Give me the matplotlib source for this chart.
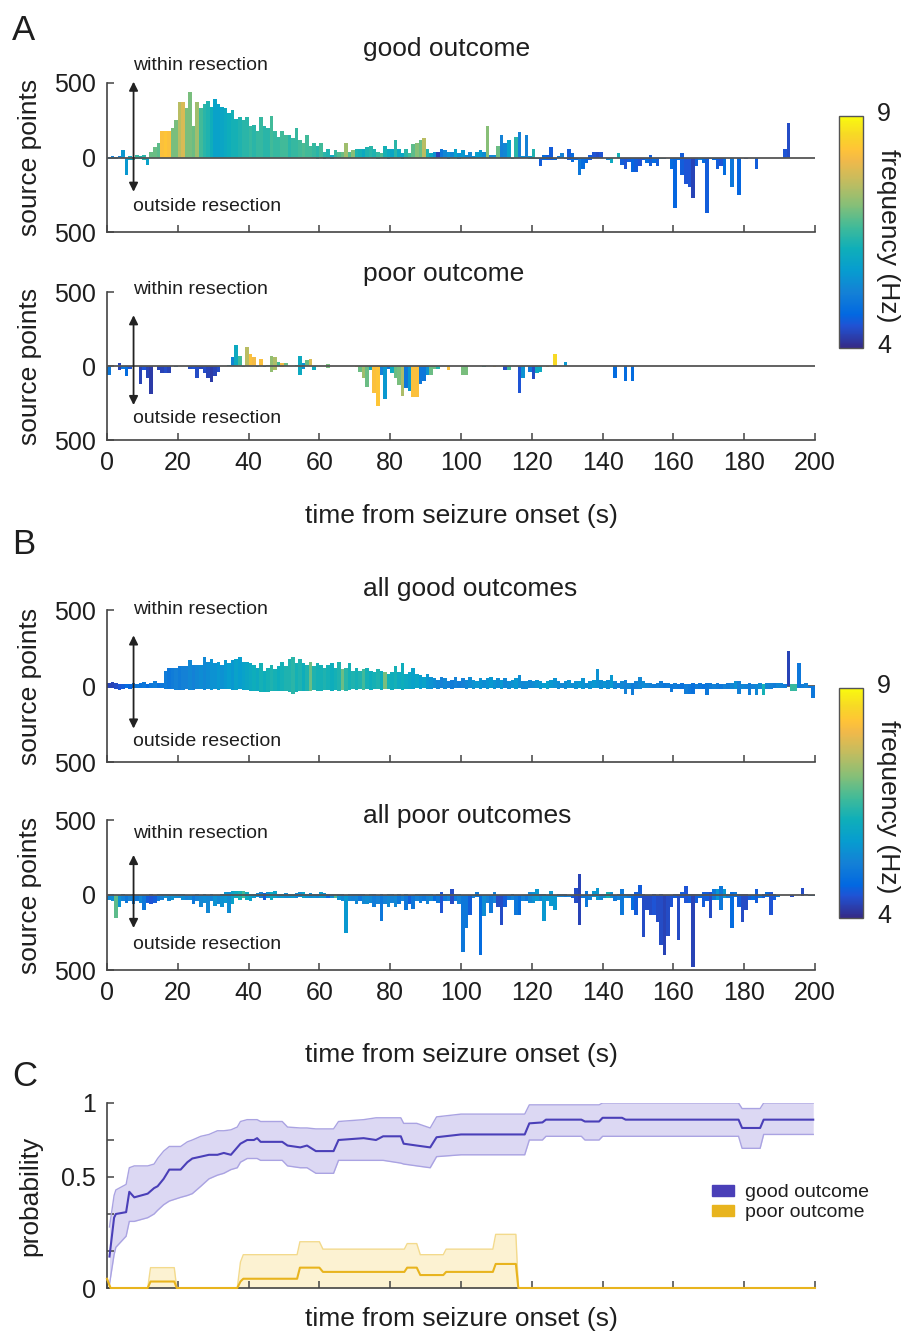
import numpy as np
import matplotlib
matplotlib.use('Agg')
import matplotlib.pyplot as plt
from matplotlib.colors import LinearSegmentedColormap, Normalize
from matplotlib.patches import Patch
from matplotlib.cm import ScalarMappable

plt.rcParams['font.family'] = ['Liberation Sans', 'DejaVu Sans']

# ---------------- data (1 s bins) ----------------
sec = np.arange(200)

# A: good outcome, source points within / outside resection, dominant frequency (Hz)
good_within = [5, 10, 5, 10, 50, 0, 10, 5, 15, 10, 20, 0, 40, 70, 100, 180, 180, 180, 200, 250,
               370, 370, 330, 440, 210, 370, 330, 360, 380, 340, 390, 360, 340, 330, 300, 320, 260, 270, 250, 270,
               210, 220, 180, 270, 210, 200, 280, 180, 140, 180, 150, 150, 130, 200, 120, 100, 150, 80, 100, 80,
               100, 40, 60, 20, 50, 40, 40, 100, 40, 50, 60, 60, 60, 70, 80, 60, 40, 30, 80, 60,
               60, 120, 60, 30, 60, 30, 90, 100, 120, 130, 60, 30, 40, 40, 60, 50, 40, 40, 60, 30,
               50, 20, 40, 10, 40, 50, 40, 210, 20, 20, 80, 150, 100, 120, 0, 140, 170, 10, 150, 10,
               60, 0, 0, 20, 20, 70, 0, 10, 30, 0, 60, 30, 0, 0, 0, 0, 20, 40, 40, 40,
               0, 0, 0, 0, 30, 0, 0, 0, 0, 0, 0, 0, 0, 20, 0, 0, 0, 0, 0, 0,
               0, 0, 30, 0, 0, 0, 0, 0, 0, 0, 0, 0, 0, 0, 0, 0, 0, 0, 0, 0,
               0, 0, 0, 0, 0, 0, 0, 0, 0, 0, 0, 60, 230, 0, 0, 0, 0, 0, 0, 0]
good_outside = [10, 5, 10, 5, 0, 120, 20, 15, 10, 10, 20, 50, 0, 0, 0, 0, 0, 0, 0, 0,
                0, 0, 0, 0, 0, 0, 0, 0, 0, 0, 0, 0, 0, 0, 0, 0, 0, 0, 0, 0,
                0, 0, 0, 0, 0, 0, 0, 0, 0, 0, 0, 0, 0, 0, 0, 0, 0, 0, 0, 10,
                0, 10, 0, 10, 0, 0, 0, 0, 0, 0, 0, 0, 0, 0, 0, 0, 10, 0, 0, 10,
                0, 0, 0, 10, 0, 0, 0, 0, 0, 0, 0, 0, 0, 0, 0, 0, 10, 0, 0, 10,
                0, 0, 0, 0, 0, 0, 0, 0, 0, 0, 0, 0, 0, 0, 10, 0, 0, 0, 0, 10,
                10, 10, 60, 20, 20, 20, 20, 0, 0, 10, 20, 30, 20, 120, 80, 40, 20, 0, 0, 0,
                0, 20, 40, 0, 0, 50, 80, 30, 100, 100, 60, 20, 40, 60, 40, 60, 10, 10, 0, 80,
                340, 20, 120, 180, 200, 270, 60, 20, 40, 370, 10, 20, 80, 60, 120, 0, 200, 0, 250, 0,
                10, 0, 0, 80, 0, 0, 0, 0, 0, 0, 0, 0, 0, 0, 0, 0, 0, 0, 0, 0]
good_freq = [5.0, 5.2, 5.3, 5.2, 5.6, 5.6, 6.0, 6.2, 6.5, 6.3, 6.4, 5.8, 6.9, 6.9, 6.8, 8.2, 8.3, 8.2, 7.0, 7.0,
             7.5, 7.8, 7.0, 7.0, 6.9, 7.3, 6.6, 6.4, 6.3, 6.1, 5.8, 5.8, 5.9, 6.0, 6.1, 6.2, 6.2, 6.3, 6.4, 6.4,
             6.5, 6.4, 6.5, 6.5, 6.4, 6.4, 6.6, 6.5, 6.5, 6.6, 6.6, 6.4, 6.5, 6.5, 6.6, 6.7, 6.6, 6.6, 6.5, 6.4,
             6.6, 6.4, 6.3, 6.0, 6.5, 6.7, 6.9, 7.3, 6.7, 7.1, 6.3, 6.2, 6.0, 6.3, 6.4, 6.3, 6.5, 6.7, 6.2, 6.0,
             5.9, 6.4, 6.0, 5.9, 6.4, 6.6, 6.8, 7.1, 6.9, 7.5, 6.3, 6.0, 5.5, 4.3, 5.0, 5.3, 5.5, 5.3, 5.8, 5.5,
             5.6, 5.4, 5.3, 5.5, 5.7, 5.6, 5.4, 7.1, 5.3, 5.4, 6.9, 5.2, 5.3, 5.8, 5.6, 6.4, 5.2, 5.5, 5.2, 5.6,
             6.3, 5.0, 4.6, 4.8, 4.6, 4.6, 4.8, 5.0, 5.2, 4.7, 4.6, 4.8, 4.7, 5.0, 4.8, 4.7, 4.6, 4.5, 4.4, 4.5,
             5.0, 5.3, 6.0, 5.0, 6.2, 4.6, 4.5, 4.6, 4.7, 4.6, 4.5, 4.6, 4.8, 4.6, 4.8, 4.6, 5.6, 5.5, 5.0, 4.8,
             4.7, 4.8, 4.6, 4.5, 4.5, 4.3, 4.6, 5.2, 4.8, 4.6, 4.7, 4.8, 4.6, 4.5, 4.8, 5.0, 5.0, 5.0, 4.7, 5.0,
             4.7, 5.0, 5.0, 4.6, 5.0, 5.0, 5.0, 5.0, 5.0, 5.0, 5.0, 4.5, 4.4, 5.0, 5.0, 5.0, 5.0, 5.0, 5.0, 5.0]

# A: poor outcome (sparse, only bins with bars)
poor_sec = [0, 3, 4, 5, 6, 9, 10, 11, 12, 14, 15, 16, 17, 19, 23, 24, 25, 26, 27, 28,
            29, 30, 31, 34, 35, 36, 37, 38, 39, 40, 41, 42, 43, 44, 45, 46, 47, 48, 49, 50,
            53, 54, 55, 56, 57, 58, 62, 70, 71, 72, 73, 74, 75, 76, 77, 78, 79, 80, 81, 82,
            83, 84, 85, 86, 87, 88, 89, 90, 91, 92, 93, 96, 100, 101, 106, 109, 112, 113, 116, 117,
            119, 120, 121, 122, 124, 126, 129, 143, 146, 148]
poor_within = [0, 20, 0, 0, 0, 0, 0, 0, 0, 0, 0, 0, 0, 0, 0, 0, 0, 0, 0, 0,
               0, 0, 0, 10, 60, 140, 70, 0, 130, 80, 60, 0, 50, 0, 10, 70, 60, 30, 20, 20,
               10, 70, 20, 40, 50, 0, 15, 0, 0, 0, 0, 0, 0, 0, 0, 0, 0, 0, 0, 0,
               0, 0, 0, 0, 0, 0, 0, 0, 0, 0, 0, 0, 0, 0, 0, 0, 0, 0, 0, 0,
               0, 0, 0, 0, 0, 80, 30, 0, 0, 0]
poor_outside = [60, 30, 20, 70, 20, 120, 30, 80, 190, 30, 50, 50, 50, 5, 20, 20, 80, 20, 50, 80,
                110, 70, 40, 0, 0, 0, 0, 5, 0, 0, 0, 10, 0, 10, 0, 40, 30, 0, 10, 0,
                0, 60, 20, 0, 0, 30, 15, 5, 40, 80, 140, 30, 180, 270, 60, 220, 20, 50, 80, 130,
                200, 150, 170, 210, 210, 120, 100, 60, 60, 20, 20, 30, 60, 60, 10, 5, 30, 30, 180, 80,
                40, 90, 50, 40, 10, 0, 0, 80, 100, 100]
poor_freq = [5.0, 4.3, 5.0, 4.8, 4.5, 4.3, 4.5, 4.3, 4.2, 4.3, 4.3, 4.4, 4.3, 5.0, 4.4, 4.5, 4.4, 4.3, 4.4, 4.3,
             4.2, 4.3, 4.4, 6.0, 5.3, 6.0, 6.6, 6.0, 7.5, 8.2, 8.1, 6.0, 8.2, 5.0, 7.0, 7.2, 7.4, 6.6, 8.1, 6.9,
             6.6, 6.0, 5.5, 6.9, 7.8, 6.0, 7.0, 8.2, 6.9, 7.3, 6.9, 6.0, 8.2, 8.3, 5.2, 5.6, 5.0, 6.0, 6.9, 7.0,
             7.4, 5.0, 5.6, 8.2, 8.2, 5.0, 5.0, 5.5, 6.9, 6.9, 6.3, 8.2, 7.0, 7.0, 6.3, 8.2, 4.4, 6.6, 4.5, 5.5,
             5.0, 4.4, 6.0, 6.0, 8.2, 8.6, 5.6, 4.8, 4.8, 4.8]

# B: all good outcomes
allgood_within = [20, 25, 20, 15, 10, 10, 15, 20, 15, 20, 25, 15, 20, 30, 20, 20, 100, 120, 120, 120,
                  130, 130, 130, 170, 140, 140, 140, 190, 160, 180, 150, 160, 140, 170, 150, 170, 180, 190, 160, 160,
                  150, 140, 120, 150, 100, 120, 140, 110, 130, 160, 130, 180, 190, 150, 180, 150, 140, 160, 130, 150,
                  140, 120, 140, 150, 120, 160, 110, 120, 150, 100, 120, 100, 110, 120, 100, 90, 110, 100, 90, 80,
                  90, 130, 90, 150, 80, 90, 120, 80, 70, 60, 80, 60, 50, 40, 60, 50, 30, 40, 60, 30,
                  50, 40, 60, 40, 30, 50, 40, 50, 60, 40, 50, 40, 50, 30, 40, 50, 70, 30, 30, 40,
                  30, 40, 30, 20, 30, 40, 50, 30, 20, 30, 40, 20, 30, 30, 50, 20, 30, 40, 110, 40,
                  30, 40, 70, 30, 20, 30, 40, 20, 20, 30, 60, 30, 20, 20, 10, 20, 30, 20, 20, 10,
                  20, 10, 20, 10, 10, 20, 10, 20, 10, 20, 20, 10, 20, 10, 10, 20, 20, 30, 30, 10,
                  10, 20, 10, 10, 20, 10, 20, 20, 20, 20, 20, 10, 230, 10, 10, 150, 10, 20, 0, 0]
allgood_outside = [10, 15, 20, 25, 20, 15, 20, 10, 15, 10, 15, 10, 10, 10, 15, 10, 20, 20, 20, 25,
                   25, 25, 20, 25, 25, 20, 20, 25, 20, 25, 20, 25, 20, 20, 20, 25, 25, 20, 25, 25,
                   30, 30, 35, 40, 40, 40, 35, 30, 30, 30, 35, 40, 50, 40, 30, 35, 30, 30, 25, 30,
                   30, 25, 25, 30, 25, 30, 25, 30, 25, 20, 25, 20, 25, 20, 25, 20, 20, 25, 20, 20,
                   25, 20, 20, 25, 20, 20, 20, 15, 20, 15, 20, 20, 15, 20, 15, 20, 15, 20, 15, 15,
                   15, 20, 15, 20, 15, 20, 15, 20, 15, 20, 15, 20, 15, 20, 15, 20, 15, 20, 20, 15,
                   15, 15, 20, 15, 20, 15, 15, 20, 15, 20, 15, 15, 20, 15, 20, 15, 20, 15, 15, 20,
                   15, 20, 15, 20, 15, 20, 50, 20, 60, 20, 20, 15, 10, 15, 10, 15, 10, 15, 10, 40,
                   20, 20, 20, 50, 50, 50, 20, 20, 20, 60, 20, 20, 20, 20, 20, 20, 20, 20, 50, 20,
                   20, 60, 20, 60, 20, 60, 20, 20, 10, 10, 10, 10, 0, 30, 30, 10, 10, 10, 10, 80]
allgood_freq = [4.3, 4.3, 4.4, 4.5, 4.6, 4.8, 4.7, 4.9, 5.0, 4.9, 5.0, 4.8, 5.0, 5.1, 4.9, 5.0, 5.1, 5.0, 5.1, 5.2,
                5.1, 5.2, 5.2, 5.3, 5.2, 5.3, 5.4, 5.3, 5.4, 5.5, 5.5, 5.6, 5.5, 5.6, 5.7, 5.6, 5.8, 5.7, 5.8, 5.9,
                6.0, 6.1, 6.0, 6.2, 6.1, 6.2, 6.3, 6.2, 6.1, 6.2, 6.3, 6.3, 6.4, 6.2, 6.3, 6.1, 6.3, 6.9, 6.3, 6.2,
                6.2, 6.3, 6.2, 6.1, 6.2, 6.3, 6.9, 6.4, 6.2, 6.3, 6.2, 6.3, 6.6, 6.2, 6.1, 6.2, 6.3, 6.1, 7.0, 6.2,
                6.1, 6.2, 6.0, 6.1, 6.0, 5.9, 5.8, 5.9, 5.7, 5.8, 5.6, 5.5, 5.4, 5.3, 5.2, 5.3, 5.2, 5.1, 5.2, 5.1,
                5.2, 5.3, 5.4, 5.5, 5.6, 5.5, 5.4, 5.5, 5.6, 5.5, 5.4, 5.6, 5.3, 5.4, 5.5, 5.6, 5.4, 5.3, 5.4, 5.3,
                5.4, 5.5, 5.6, 5.7, 5.8, 5.6, 5.5, 5.4, 5.3, 5.4, 5.5, 5.4, 5.5, 5.6, 5.5, 5.4, 5.5, 5.6, 5.5, 5.4,
                5.5, 5.4, 5.6, 5.3, 5.2, 5.3, 5.2, 5.3, 5.1, 5.2, 5.3, 5.4, 5.3, 5.2, 5.1, 5.2, 5.1, 5.0, 5.1, 5.0,
                5.1, 5.0, 4.9, 5.1, 5.0, 4.9, 5.1, 5.0, 4.9, 5.0, 5.1, 5.2, 5.1, 5.0, 5.2, 5.1, 5.3, 5.5, 5.2, 5.3,
                5.2, 5.1, 5.2, 5.3, 5.4, 6.2, 5.3, 5.2, 5.1, 5.3, 5.2, 5.1, 4.3, 6.5, 6.5, 5.0, 5.1, 5.2, 5.0, 5.0]

# B: all poor outcomes
allpoor_within = [0, 5, 0, 0, 5, 0, 0, 5, 0, 0, 0, 0, 5, 0, 5, 10, 5, 10, 10, 10,
                  5, 5, 0, 0, 0, 5, 0, 10, 0, 5, 0, 0, 10, 20, 20, 30, 30, 25, 30, 20,
                  10, 10, 15, 20, 15, 20, 20, 25, 10, 10, 15, 10, 10, 15, 20, 20, 10, 15, 10, 10,
                  20, 15, 10, 10, 10, 5, 5, 0, 5, 5, 10, 5, 5, 0, 5, 5, 0, 5, 0, 5,
                  5, 0, 5, 0, 5, 0, 0, 5, 10, 5, 5, 5, 0, 5, 20, 5, 5, 40, 5, 5,
                  0, 0, 0, 0, 20, 0, 0, 0, 0, 20, 0, 0, 0, 0, 5, 0, 0, 0, 0, 20,
                  20, 40, 10, 10, 0, 30, 0, 10, 10, 10, 0, 0, 50, 140, 0, 30, 0, 30, 50, 10,
                  10, 20, 20, 0, 10, 40, 10, 10, 10, 20, 70, 10, 0, 0, 10, 0, 10, 0, 0, 0,
                  10, 10, 20, 60, 10, 10, 10, 10, 20, 20, 20, 40, 40, 60, 40, 10, 20, 20, 10, 10,
                  10, 0, 0, 40, 0, 10, 20, 20, 10, 0, 0, 0, 0, 0, 0, 0, 50, 5, 0, 0]
allpoor_outside = [30, 40, 150, 80, 40, 50, 40, 60, 40, 50, 100, 50, 60, 50, 40, 30, 20, 40, 30, 20,
                   20, 30, 30, 30, 60, 40, 80, 50, 120, 40, 70, 60, 80, 50, 120, 60, 20, 30, 20, 30,
                   40, 20, 10, 20, 30, 20, 30, 20, 20, 20, 20, 20, 20, 20, 10, 20, 20, 20, 20, 20,
                   20, 20, 20, 20, 20, 30, 40, 250, 40, 40, 60, 40, 60, 60, 50, 80, 60, 170, 60, 80,
                   50, 80, 60, 40, 100, 60, 90, 40, 50, 40, 60, 40, 40, 50, 120, 40, 40, 60, 40, 60,
                   380, 220, 130, 20, 10, 400, 140, 50, 120, 50, 80, 200, 80, 30, 30, 130, 130, 40, 40, 50,
                   50, 40, 40, 170, 40, 70, 100, 10, 10, 10, 10, 20, 50, 200, 20, 80, 30, 10, 30, 30,
                   20, 20, 20, 40, 30, 130, 20, 20, 100, 130, 20, 280, 100, 130, 130, 180, 330, 400, 270, 80,
                   20, 300, 20, 50, 50, 480, 50, 20, 80, 40, 150, 30, 30, 100, 20, 20, 220, 10, 80, 180,
                   100, 30, 30, 50, 20, 20, 10, 130, 30, 10, 0, 0, 0, 10, 0, 0, 5, 0, 5, 5]
allpoor_freq = [5.3, 5.4, 6.8, 5.5, 5.2, 5.0, 5.2, 5.1, 5.0, 5.3, 5.0, 4.6, 4.5, 4.6, 5.0, 5.2, 5.5, 5.3, 5.5, 5.4,
                5.3, 5.4, 5.2, 5.3, 5.0, 5.2, 5.3, 5.4, 5.3, 5.2, 5.5, 5.3, 5.5, 5.6, 5.4, 5.8, 6.0, 6.2, 6.6, 6.0,
                5.8, 5.6, 5.4, 5.2, 4.6, 5.5, 6.0, 5.8, 5.5, 5.6, 5.4, 5.5, 5.6, 5.3, 5.4, 5.8, 5.5, 5.4, 5.5, 5.3,
                5.6, 5.5, 4.8, 5.4, 6.7, 5.5, 5.3, 5.6, 5.3, 5.2, 5.3, 5.0, 5.3, 5.4, 5.3, 5.1, 5.2, 5.0, 5.2, 5.3,
                5.2, 5.3, 5.0, 5.2, 5.0, 4.6, 5.0, 5.2, 5.1, 5.0, 5.2, 5.3, 4.8, 5.0, 4.5, 5.0, 5.2, 4.4, 5.0, 5.2,
                5.0, 5.0, 4.6, 5.2, 5.0, 4.8, 5.4, 5.2, 5.0, 5.2, 4.4, 4.4, 4.6, 5.0, 5.2, 5.0, 4.8, 5.2, 5.0, 5.3,
                5.5, 5.6, 5.3, 5.6, 5.5, 5.6, 5.6, 5.4, 5.2, 5.0, 5.2, 4.6, 4.4, 4.3, 5.0, 5.0, 5.2, 5.6, 5.6, 5.3,
                5.6, 6.2, 5.4, 5.0, 5.2, 5.0, 5.2, 5.0, 4.8, 4.6, 4.6, 4.4, 4.4, 4.4, 4.5, 4.4, 4.4, 4.3, 4.4, 4.5,
                4.6, 4.4, 4.6, 4.5, 4.6, 4.3, 4.6, 4.8, 4.6, 4.6, 4.4, 5.0, 5.6, 5.0, 5.6, 5.0, 4.8, 5.0, 4.6, 4.4,
                4.4, 4.6, 4.8, 4.6, 5.0, 4.6, 4.8, 4.5, 4.6, 5.0, 5.0, 5.0, 5.0, 4.4, 5.0, 5.0, 4.4, 4.5, 5.0, 5.0]

# C: probability of localising within resection (mean and band)
good_t = [0.7, 2, 2.5, 5.4, 6.3, 7.7, 11.5, 13.3, 14.3, 16, 17.6, 20.8, 22.7, 24.1, 26.5, 28.8, 31.2, 33, 35, 36.8,
          37.7, 39.6, 41.5, 42.4, 43.4, 49.5, 51, 54.6, 56.5, 59, 64, 65.4, 72.5, 76, 78, 83, 83.8, 87.5, 91.3, 93.1,
          100, 118, 119.3, 123, 124, 134, 135, 139, 140, 145.5, 146.5, 178.4, 179.4, 184.5, 185.5, 199.5]
good_mean = [0.17, 0.38, 0.40, 0.41, 0.52, 0.49, 0.51, 0.54, 0.55, 0.59, 0.64, 0.64, 0.68, 0.70, 0.71, 0.72, 0.72, 0.73, 0.72, 0.76,
             0.78, 0.80, 0.80, 0.81, 0.79, 0.79, 0.77, 0.76, 0.77, 0.74, 0.74, 0.80, 0.81, 0.80, 0.82, 0.82, 0.78, 0.77, 0.76, 0.815,
             0.83, 0.83, 0.89, 0.895, 0.91, 0.91, 0.90, 0.90, 0.92, 0.92, 0.91, 0.91, 0.865, 0.865, 0.91, 0.91]
good_lo = [0.02, 0.18, 0.22, 0.28, 0.36, 0.36, 0.38, 0.40, 0.42, 0.45, 0.47, 0.49, 0.50, 0.51, 0.55, 0.59, 0.61, 0.62, 0.64, 0.65,
           0.68, 0.70, 0.70, 0.70, 0.69, 0.69, 0.66, 0.65, 0.65, 0.62, 0.62, 0.69, 0.69, 0.69, 0.69, 0.675, 0.67, 0.66, 0.65, 0.71,
           0.72, 0.72, 0.80, 0.80, 0.82, 0.82, 0.80, 0.80, 0.82, 0.82, 0.82, 0.82, 0.755, 0.755, 0.83, 0.83]
good_hi = [0.33, 0.50, 0.53, 0.56, 0.65, 0.66, 0.66, 0.67, 0.70, 0.74, 0.765, 0.765, 0.79, 0.80, 0.82, 0.83, 0.85, 0.85, 0.855, 0.87,
           0.90, 0.91, 0.91, 0.91, 0.90, 0.90, 0.87, 0.865, 0.865, 0.86, 0.86, 0.90, 0.91, 0.92, 0.92, 0.92, 0.89, 0.89, 0.865, 0.925,
           0.94, 0.94, 0.99, 0.99, 0.99, 0.99, 0.99, 0.99, 1.0, 1.0, 1.0, 1.0, 0.97, 0.97, 1.0, 1.0]

poor_t_c = [0, 1, 11.5, 12.3, 19, 19.7, 36.8, 37.7, 38.5, 53.7, 54.5, 60, 61, 84, 84.8, 87.5, 88.5, 95, 95.8, 109,
            109.8, 115.5, 116.2, 200]
poor_mean = [0.05, 0, 0, 0.035, 0.035, 0, 0, 0.035, 0.05, 0.05, 0.11, 0.11, 0.087, 0.087, 0.11, 0.11, 0.07, 0.07, 0.087, 0.087,
             0.13, 0.13, 0, 0]
poor_hi = [0.05, 0, 0, 0.11, 0.11, 0, 0, 0.14, 0.18, 0.18, 0.25, 0.25, 0.21, 0.21, 0.24, 0.24, 0.18, 0.18, 0.21, 0.21,
           0.29, 0.29, 0, 0]

x_ticks = list(range(0, 201, 20))

# parula (MATLAB) colour map anchors
parula_pos = [0.0, 0.095, 0.143, 0.238, 0.333, 0.429, 0.524, 0.619, 0.714, 0.810, 0.857, 0.921, 1.0]
parula_rgb = [(0.2081, 0.1663, 0.5292), (0.1253, 0.3242, 0.8303), (0.0060, 0.4086, 0.8828),
              (0.0779, 0.5040, 0.8384), (0.0265, 0.6137, 0.8135), (0.0590, 0.6838, 0.7254),
              (0.2586, 0.7317, 0.5954), (0.5300, 0.7491, 0.4661), (0.7525, 0.7384, 0.3768),
              (0.9450, 0.7261, 0.2886), (0.9990, 0.7653, 0.2164), (0.9697, 0.8481, 0.1475),
              (0.9763, 0.9831, 0.0538)]
parula = LinearSegmentedColormap.from_list('parula', list(zip(parula_pos, parula_rgb)))
norm = Normalize(4, 9)

TXT = '#1e1e1e'
AXC = '#444444'
W, H = 904, 1334

fig = plt.figure(figsize=(W / 100, H / 100), dpi=100)


def box(top_px, bot_px):
    return [107 / W, 1 - bot_px / H, 708 / W, (bot_px - top_px) / H]


def style_axes(ax, show_xlabels):
    for s in ['top', 'right']:
        ax.spines[s].set_visible(False)
    for s in ['left', 'bottom']:
        ax.spines[s].set_color(AXC)
        ax.spines[s].set_linewidth(1.2)
    ax.set_xlim(0, 200)
    ax.set_xticks(x_ticks)
    ax.tick_params(direction='in', length=5, width=1.1, color=AXC, labelsize=18,
                   labelcolor=TXT, pad=8)
    if not show_xlabels:
        ax.set_xticklabels([])


def bar_panel(top_px, bot_px, t, within, outside, freq, title, title_y,
              arrow_lims, within_y, outside_y, xlabel_pad=None, zline_top=True):
    ax = fig.add_axes(box(top_px, bot_px))
    cols = parula(norm(np.asarray(freq)))
    ax.bar(t, within, width=1, align='edge', color=cols, linewidth=0, zorder=2)
    ax.bar(t, -np.asarray(outside), width=1, align='edge', color=cols, linewidth=0, zorder=2)
    ax.plot([0, 200], [0, 0], color='#555555', lw=1.3, zorder=3 if zline_top else 1)
    style_axes(ax, xlabel_pad is not None)
    ax.set_ylim(-500, 500)
    ax.set_yticks([-500, 0, 500])
    ax.set_yticklabels(['500', '0', '500'])
    ax.set_ylabel('source points', fontsize=19, color=TXT)
    ax.yaxis.set_label_coords(-0.092, 0.5)
    ax.annotate('', xy=(7.5, arrow_lims[0]), xytext=(7.5, arrow_lims[1]),
                arrowprops=dict(arrowstyle='<|-|>', color='#222222', lw=1.3, mutation_scale=13,
                                shrinkA=0, shrinkB=0), annotation_clip=False, zorder=4)
    ax.text(7.4, within_y, 'within resection', fontsize=14, color=TXT, va='center', ha='left', clip_on=False)
    ax.text(7.4, outside_y, 'outside resection', fontsize=14, color=TXT, va='center', ha='left', clip_on=False)
    ax.text(0.3616, title_y, title, transform=ax.transAxes, fontsize=19, color=TXT, ha='left', va='center')
    if xlabel_pad is not None:
        ax.set_xlabel('time from seizure onset (s)', fontsize=19, color=TXT, labelpad=xlabel_pad)
    return ax


bar_panel(83, 232, sec, good_within, good_outside, good_freq, 'good outcome', 1.23,
          (509, -230), 620, -332)
bar_panel(292, 440, poor_sec, poor_within, poor_outside, poor_freq, 'poor outcome', 1.12,
          (343, -264), 514, -358, xlabel_pad=21)
bar_panel(610, 762, sec, allgood_within, allgood_outside, allgood_freq, 'all good outcomes', 1.14,
          (333, -280), 505, -367, zline_top=False)
bar_panel(820, 970, sec, allpoor_within, allpoor_outside, allpoor_freq, 'all poor outcomes', 1.03,
          (267, -220), 413, -333, xlabel_pad=27)


# colour bars
def colour_bar(top_px, bot_px):
    cax = fig.add_axes([839 / W, 1 - bot_px / H, 24 / W, (bot_px - top_px) / H])
    cb = fig.colorbar(ScalarMappable(norm=norm, cmap=parula), cax=cax)
    cb.set_ticks([])
    cb.outline.set_edgecolor('#555555')
    cb.outline.set_linewidth(1.0)
    fig.text(877 / W, 1 - (top_px - 2) / H, '9', fontsize=18, color=TXT, ha='left', va='center')
    fig.text(877 / W, 1 - (bot_px - 2) / H, '4', fontsize=18, color=TXT, ha='left', va='center')
    fig.text(888 / W, 1 - ((top_px + bot_px) / 2 + 4) / H, 'frequency (Hz)', fontsize=19, color=TXT,
             rotation=270, ha='center', va='center')


colour_bar(116, 348)
colour_bar(688, 918)

# C: probability panel
axc = fig.add_axes(box(1103, 1288))
axc.fill_between(good_t, good_lo, good_hi, color='#dcd8f3', lw=0, zorder=1)
axc.plot(good_t, good_lo, color='#aaa3e2', lw=1.0, zorder=2)
axc.plot(good_t, good_hi, color='#aaa3e2', lw=1.0, zorder=2)
axc.plot(good_t, good_mean, color='#4a3fb8', lw=1.5, zorder=3)
axc.fill_between(poor_t_c, 0, poor_hi, color='#fcf2d2', lw=0, zorder=1)
axc.plot(poor_t_c, poor_hi, color='#f3da8c', lw=1.0, zorder=2)
axc.plot(poor_t_c, poor_mean, color='#e8b41e', lw=1.5, zorder=4, clip_on=False)
style_axes(axc, False)
axc.set_ylim(0, 1)
axc.set_yticks([0, 0.2, 0.4, 0.6, 0.8, 1.0])
axc.set_yticklabels(['0', '', '', '0.5', '', '1'])
axc.set_ylabel('probability', fontsize=19, color=TXT)
axc.yaxis.set_label_coords(-0.092, 0.5)
axc.set_xlabel('time from seizure onset (s)', fontsize=19, color=TXT, labelpad=6)
axc.legend(handles=[Patch(color='#4a3fb8', label='good outcome'),
                    Patch(color='#e8b41e', label='poor outcome')],
           loc='center left', bbox_to_anchor=(0.83, 0.46), frameon=False, fontsize=14,
           handlelength=1.1, handleheight=0.55, handletextpad=0.6, labelspacing=0.15,
           labelcolor=TXT)

# panel letters
for letter, y_px in [('A', 30), ('B', 545), ('C', 1077)]:
    fig.text(12 / W, 1 - y_px / H, letter, fontsize=25, color=TXT, ha='left', va='center')

fig.savefig('out.png', dpi=100)
